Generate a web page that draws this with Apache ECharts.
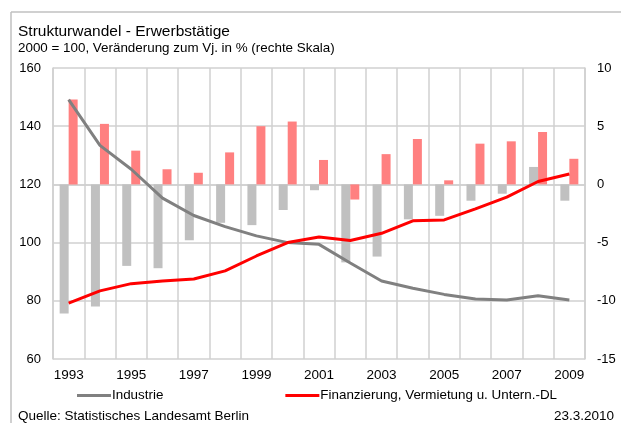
<!DOCTYPE html>
<html>
<head>
<meta charset="utf-8">
<script src="https://cdn.jsdelivr.net/npm/echarts@6/dist/echarts.min.js"></script>
<style>
  html, body { margin: 0; padding: 0; background: #fff; }
  #chart { width: 621px; height: 423px; }
</style>
</head>
<body>
<div id="chart"></div>
<script>
var years = ['1993','1994','1995','1996','1997','1998','1999','2000','2001',
             '2002','2003','2004','2005','2006','2007','2008','2009'];

// Index 2000 = 100 (linke Skala)
var industrieIndex = [149.1, 133.4, 125.2, 115.3, 109.3, 105.5, 102.3, 100, 99.4,
                      93.0, 86.8, 84.3, 82.2, 80.6, 80.3, 81.7, 80.3];
var finanzIndex = [79.2, 83.4, 85.9, 86.8, 87.5, 90.3, 95.4, 100, 101.9,
                   100.7, 103.2, 107.5, 107.8, 111.6, 115.6, 121.0, 123.6];

// Veränderung zum Vj. in % (rechte Skala)
var industrieVer = [-11.1, -10.5, -7.0, -7.2, -4.8, -3.3, -3.5, -2.2, -0.5,
                    -6.7, -6.2, -3.0, -2.7, -1.4, -0.8, 1.5, -1.4];
var finanzVer = [7.3, 5.2, 2.9, 1.3, 1.0, 2.75, 5.0, 5.4, 2.1,
                 -1.3, 2.6, 3.9, 0.35, 3.5, 3.7, 4.5, 2.2];

var gridColor = '#d0d0d0';
var font = 'Liberation Sans, Arial, sans-serif';

var myChart = echarts.init(document.getElementById('chart'));

var option = {
    animation: false,
    textStyle: { fontFamily: font },
    title: [
        {
            text: 'Strukturwandel - Erwerbstätige',
            left: 13, top: 19,
            textStyle: { fontSize: 15.5, fontWeight: 'normal', color: '#000', fontFamily: font }
        },
        {
            text: '2000 = 100, Veränderung zum Vj. in % (rechte Skala)',
            left: 13, top: 37,
            textStyle: { fontSize: 13.4, fontWeight: 'normal', color: '#000', fontFamily: font }
        },
        {
            text: 'Quelle: Statistisches Landesamt Berlin',
            left: 13, top: 404,
            textStyle: { fontSize: 13.5, fontWeight: 'normal', color: '#000', fontFamily: font }
        },
        {
            text: '23.3.2010',
            right: 2, top: 404,
            textStyle: { fontSize: 13.5, fontWeight: 'normal', color: '#000', fontFamily: font }
        }
    ],
    graphic: [
        { type: 'line', shape: { x1: 11, y1: 12, x2: 621, y2: 12 }, style: { stroke: '#c0c0c0', lineWidth: 1.5 } },
        { type: 'line', shape: { x1: 11, y1: 12, x2: 11, y2: 423 }, style: { stroke: '#c0c0c0', lineWidth: 1.5 } }
    ],
    legend: {
        data: ['Industrie', 'Finanzierung, Vermietung u. Untern.-DL'],
        left: 72, top: 384,
        icon: 'rect',
        itemWidth: 34, itemHeight: 3,
        itemGap: 122,
        textStyle: { fontSize: 13.4, color: '#000', padding: [0, 0, 0, -4] }
    },
    grid: { left: 53, right: 36, top: 68, bottom: 64 },
    xAxis: {
        type: 'category',
        data: years,
        boundaryGap: true,
        axisLine: { lineStyle: { color: gridColor, width: 1.5 } },
        axisTick: { show: false },
        axisLabel: { interval: 1, color: '#000', fontSize: 13.5, margin: 9 },
        splitLine: { show: true, interval: 0, lineStyle: { color: gridColor, width: 1.5 } }
    },
    yAxis: [
        {
            type: 'value',
            min: 60, max: 160, interval: 20,
            axisLine: { show: true, lineStyle: { color: gridColor, width: 1.5 } },
            axisTick: { show: false },
            axisLabel: { color: '#000', fontSize: 13, margin: 12 },
            splitLine: { lineStyle: { color: gridColor, width: 1.5 } }
        },
        {
            type: 'value',
            min: -15, max: 10, interval: 5,
            axisLine: { show: true, lineStyle: { color: gridColor, width: 1.5 } },
            axisTick: { show: false },
            axisLabel: { color: '#000', fontSize: 13, margin: 12 },
            splitLine: { show: false }
        }
    ],
    series: [
        {
            name: 'Industrie Ver',
            type: 'bar',
            yAxisIndex: 1,
            data: industrieVer,
            barWidth: 9,
            barGap: '0%',
            itemStyle: { color: '#c0c0c0' }
        },
        {
            name: 'Finanz Ver',
            type: 'bar',
            yAxisIndex: 1,
            data: finanzVer,
            barWidth: 9,
            barGap: '0%',
            itemStyle: { color: '#ff8080' }
        },
        {
            name: 'Industrie',
            type: 'line',
            data: industrieIndex,
            symbol: 'none',
            lineStyle: { color: '#808080', width: 3 },
            itemStyle: { color: '#808080' }
        },
        {
            name: 'Finanzierung, Vermietung u. Untern.-DL',
            type: 'line',
            data: finanzIndex,
            symbol: 'none',
            lineStyle: { color: '#ff0000', width: 3 },
            itemStyle: { color: '#ff0000' }
        }
    ]
};

myChart.setOption(option);
</script>
</body>
</html>
